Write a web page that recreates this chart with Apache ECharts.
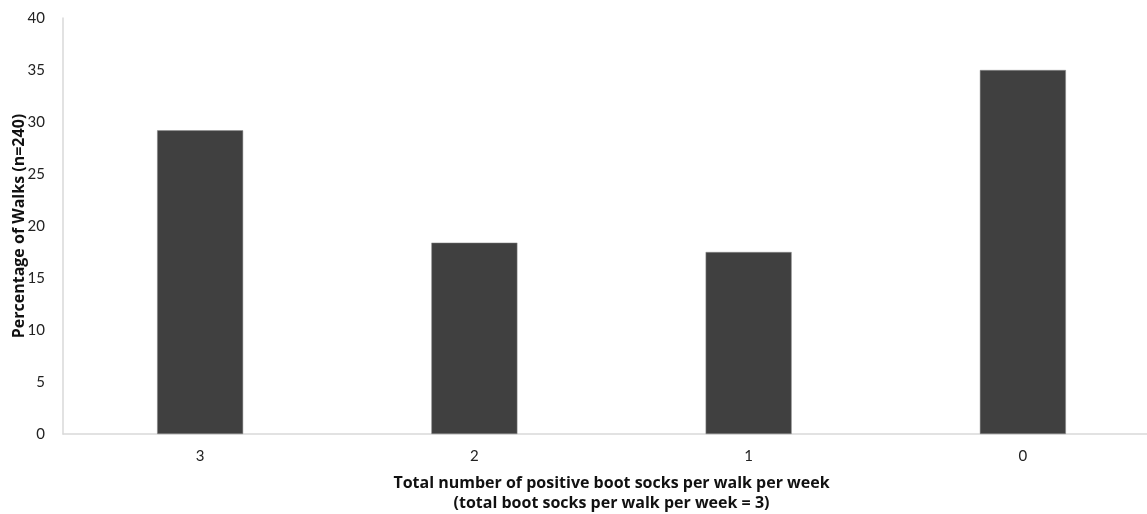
<!DOCTYPE html>
<html><head><meta charset="utf-8">
<script src="https://cdn.jsdelivr.net/npm/echarts@6/dist/echarts.min.js"></script>
<style>html,body{margin:0;padding:0;background:#fff}#c{width:1147px;height:514px}</style>
</head><body><div id="c"></div>
<script>
const categories = ['3', '2', '1', '0'];
const percentages = [29.2, 18.4, 17.5, 35.0];
const yTicks = [0, 5, 10, 15, 20, 25, 30, 35, 40];
const xTitle = 'Total number of positive boot socks per walk per week\n(total boot socks per walk per week = 3)';
const yTitle = 'Percentage of Walks (n=240)';

const chart = echarts.init(document.getElementById('c'));
chart.setOption({
  animation: false,
  textStyle: { fontFamily: 'Lato, "Open Sans", sans-serif' },
  grid: { left: 63, right: -13, top: 18, bottom: 80, outerBoundsMode: 'none', containLabel: false },
  xAxis: {
    type: 'category', data: categories,
    axisLine: { lineStyle: { color: '#d9d9d9', width: 1.5 } },
    axisTick: { show: false },
    axisLabel: { color: '#222', fontSize: 15, margin: 15 },
    name: xTitle, nameLocation: 'middle', nameGap: 39, nameMoveOverlap: false,
    nameTextStyle: { color: '#111', fontSize: 16, fontWeight: 'bold', lineHeight: 20, fontFamily: '"Open Sans", sans-serif' }
  },
  yAxis: {
    type: 'value', min: yTicks[0], max: yTicks[yTicks.length - 1], interval: 5,
    axisLine: { show: true, lineStyle: { color: '#d9d9d9', width: 1.5 } },
    axisTick: { show: false },
    splitLine: { show: false },
    axisLabel: { color: '#222', fontSize: 15, margin: 18 },
    name: yTitle, nameLocation: 'middle', nameGap: 36, nameRotate: 90, nameMoveOverlap: false,
    nameTextStyle: { color: '#111', fontSize: 16, fontWeight: 'bold', fontFamily: '"Open Sans", sans-serif' }
  },
  series: [{
    type: 'bar', data: percentages, barWidth: 86,
    itemStyle: { color: '#404040', borderColor: '#8a8a8a', borderWidth: 0.5 }
  }]
});
</script></body></html>
